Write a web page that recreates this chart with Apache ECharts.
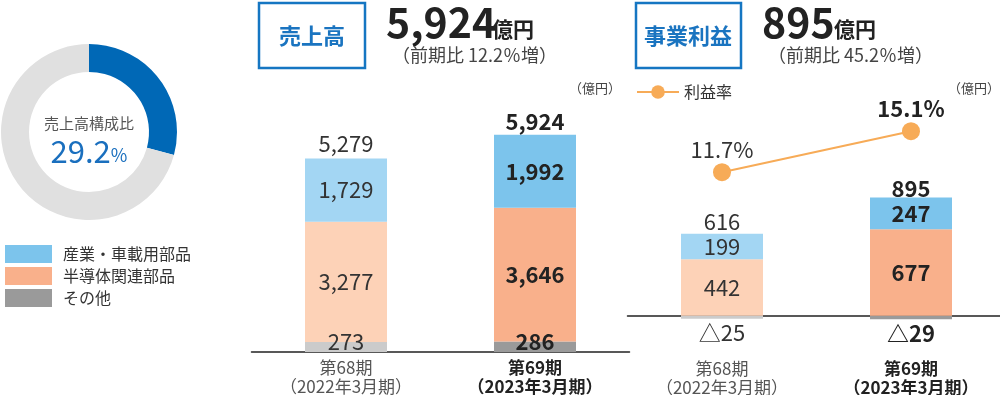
<!DOCTYPE html>
<html><head><meta charset="utf-8">
<script src="https://cdn.jsdelivr.net/npm/echarts@6/dist/echarts.min.js"></script>
<style>html,body{margin:0;padding:0;background:#fff;}#c{width:1000px;height:395px;}</style>
</head><body><div id="c"></div>
<script>
// ---- data ----
const categories = ['第68期\n（2022年3月期）', '第69期\n（2023年3月期）'];
const salesIndustrial = [1729, 1992];
const salesSemi = [3277, 3646];
const salesOther = [273, 286];
const salesTotal = [5279, 5924];
const profitIndustrial = [199, 247];
const profitSemi = [442, 677];
const profitOther = [-25, -29];
const profitTotal = [616, 895];
const profitMargin = [11.7, 15.1];
const shareValues = [29.2, 70.8];
const seriesNames = ['産業・車載用部品', '半導体関連部品', 'その他'];

// ---- styles ----
const FONT = '"Noto Sans CJK JP", "Noto Sans", sans-serif';
const lightCol = ['#a3d6f3', '#fdd2b7', '#cbcbcb'];
const strongCol = ['#7cc4ec', '#f9b08b', '#9a9a9a'];
const lineCol = '#f7ab57';
const blue = '#1a74c0';
const LFS = 22;

function items(values, k) {
  return values.map((v, i) => ({
    value: v,
    itemStyle: { color: i === 0 ? lightCol[k] : strongCol[k] },
    label: { fontWeight: i === 0 ? 'normal' : 'bold', color: i === 0 ? '#333' : '#222' }
  }));
}
function negFmt(p) { return '△' + Math.abs(p.value); }
function numFmt(p) { return Number(p.value).toLocaleString('en-US'); }

const labelBase = { show: true, fontSize: LFS, fontFamily: FONT, position: 'inside' };

function catAxis(gi, margin) {
  return {
    gridIndex: gi, type: 'category', data: categories,
    axisLine: { lineStyle: { color: '#222', width: 1.5 } },
    axisTick: { show: false },
    axisLabel: {
      margin: margin, interval: 0,
      formatter: function (v, idx) {
        const ls = v.split('\n'); const s = idx === 0 ? 'm' : 'b';
        return '{' + s + '|' + ls[0] + '}\n{' + s + '|' + ls[1] + '}';
      },
      rich: {
        m: { fontSize: 17, color: '#555', lineHeight: 19, fontFamily: FONT },
        b: { fontSize: 17, color: '#222', fontWeight: 'bold', lineHeight: 19, fontFamily: FONT }
      }
    }
  };
}

// stacked from bottom: other (k=2), semi (k=1), industrial (k=0)
function stackBars(xi, yi, stack, other, semi, industrial) {
  const list = [[other, 2], [semi, 1], [industrial, 0]];
  return list.map(([arr, k]) => {
    let lab = Object.assign({}, labelBase, { formatter: numFmt });
    if (k === 2) {
      lab = stack === 's'
        ? Object.assign(lab, { offset: [0, -5] })
        : Object.assign(lab, { position: 'bottom', distance: 3, formatter: negFmt });
    }
    return {
      name: seriesNames[k], type: 'bar', stack: stack, xAxisIndex: xi, yAxisIndex: yi,
      barWidth: 82, barGap: '-100%', color: strongCol[k], silent: true,
      data: items(arr, k), label: lab, z: 3
    };
  });
}

function totalBar(xi, yi, vals) {
  return {
    type: 'bar', xAxisIndex: xi, yAxisIndex: yi, barWidth: 82, barGap: '-100%', silent: true,
    itemStyle: { color: 'rgba(0,0,0,0)' }, z: 1,
    data: vals.map((v, i) => ({ value: v, label: { fontWeight: i === 0 ? 'normal' : 'bold', color: i === 0 ? '#333' : '#222', distance: i === 0 ? 4 : 2 } })),
    label: { show: true, position: 'top', fontSize: LFS, fontFamily: FONT, formatter: numFmt }
  };
}

const option = {
  animation: false,
  legend: [{
    data: seriesNames, orient: 'vertical', left: 0, top: 240, icon: 'rect',
    itemWidth: 47, itemHeight: 18, itemGap: 4, selectedMode: false,
    textStyle: { fontSize: 16, color: '#333', fontFamily: FONT, padding: [0, 0, 0, 6] }
  }, {
    data: ['利益率'], left: 631, top: 79, itemWidth: 42, itemHeight: 17, selectedMode: false,
    textStyle: { fontSize: 16, color: '#333', fontFamily: FONT, padding: [0, 0, 0, 0] }
  }],
  grid: [
    { left: 251.5, top: 132, width: 378, height: 220, outerBoundsMode: 'none', containLabel: false },
    { left: 627.5, top: 124, width: 378, height: 230, outerBoundsMode: 'none', containLabel: false }
  ],
  xAxis: [catAxis(0, 6), catAxis(1, 5)],
  yAxis: [
    { gridIndex: 0, min: 0, max: 6000, show: false },
    { gridIndex: 1, min: -300, max: 1500, show: false },
    { gridIndex: 1, min: -3.4, max: 15.7, show: false }
  ],
  graphic: [
    { type: 'rect', shape: { x: 259, y: 3, width: 106, height: 65 }, style: { fill: 'none', stroke: '#1576c2', lineWidth: 2.5 } },
    { type: 'text', x: 312, y: 36, style: { text: '売上高', font: 'bold 22px ' + FONT, fill: blue, align: 'center', verticalAlign: 'middle' } },
    { type: 'text', x: 386, y: 22, style: { text: '5,924', font: 'bold 41px ' + FONT, fill: '#222', verticalAlign: 'middle' } },
    { type: 'text', x: 492, y: 29, style: { text: '億円', font: 'bold 21px ' + FONT, fill: '#222', verticalAlign: 'middle' } },
    { type: 'text', x: 392, y: 55, style: { text: '（前期比 12.2％増）', font: '18px ' + FONT, fill: '#444', verticalAlign: 'middle' } },
    { type: 'text', x: 621, y: 88, style: { text: '（億円）', font: '13px ' + FONT, fill: '#444', align: 'right', verticalAlign: 'middle' } },
    { type: 'rect', shape: { x: 636, y: 3, width: 105, height: 65 }, style: { fill: 'none', stroke: '#1576c2', lineWidth: 2.5 } },
    { type: 'text', x: 688, y: 36, style: { text: '事業利益', font: 'bold 22px ' + FONT, fill: blue, align: 'center', verticalAlign: 'middle' } },
    { type: 'text', x: 762, y: 22, style: { text: '895', font: 'bold 41px ' + FONT, fill: '#222', verticalAlign: 'middle' } },
    { type: 'text', x: 834, y: 29, style: { text: '億円', font: 'bold 21px ' + FONT, fill: '#222', verticalAlign: 'middle' } },
    { type: 'text', x: 768, y: 55, style: { text: '（前期比 45.2％増）', font: '18px ' + FONT, fill: '#444', verticalAlign: 'middle' } },
    { type: 'text', x: 1000, y: 88, style: { text: '（億円）', font: '13px ' + FONT, fill: '#444', align: 'right', verticalAlign: 'middle' } },
    { type: 'text', x: 89, y: 123, style: { text: '売上高構成比', font: '15px ' + FONT, fill: '#555', align: 'center', verticalAlign: 'middle' } },
    { type: 'text', x: 89, y: 151, style: { text: '{n|29.2}{p|%}', rich: { n: { font: '31px ' + FONT, fill: '#1a6fbe' }, p: { font: '18px ' + FONT, fill: '#1a6fbe', padding: [8, 0, 0, 0] } }, align: 'center', verticalAlign: 'middle' } }
  ],
  series: [
    {
      type: 'pie', center: [89, 132], radius: [60, 88], startAngle: 90, clockwise: true,
      silent: true, label: { show: false }, labelLine: { show: false },
      data: shareValues.map((v, i) => ({ value: v, name: i === 0 ? '比率' : '他', itemStyle: { color: i === 0 ? '#0068b6' : '#e0e0e0' } }))
    },
    ...stackBars(0, 0, 's', salesOther, salesSemi, salesIndustrial),
    totalBar(0, 0, salesTotal),
    ...stackBars(1, 1, 'p', profitOther, profitSemi, profitIndustrial),
    totalBar(1, 1, profitTotal),
    {
      name: '利益率', type: 'line', xAxisIndex: 1, yAxisIndex: 2, color: lineCol,
      symbol: 'circle', symbolSize: 18, lineStyle: { width: 2, color: lineCol }, silent: true,
      itemStyle: { color: lineCol },
      data: profitMargin.map((v, i) => ({ value: v, label: { fontWeight: i === 0 ? 'normal' : 'bold', color: i === 0 ? '#333' : '#222' } })),
      label: { show: true, position: 'top', distance: 3, fontSize: LFS, fontFamily: FONT, formatter: '{c}%' }
    }
  ]
};
echarts.init(document.getElementById('c')).setOption(option);
</script></body></html>
